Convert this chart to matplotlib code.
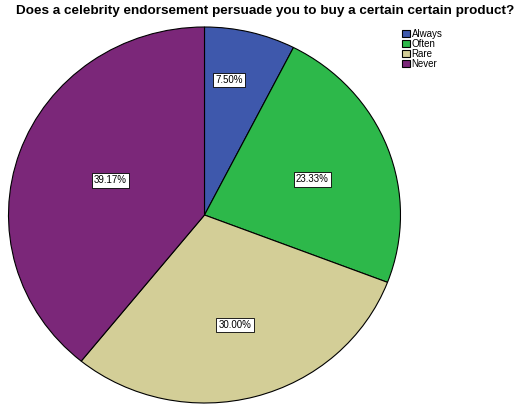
import matplotlib.pyplot as plt

plt.rcParams['font.family'] = ['Liberation Sans', 'DejaVu Sans']

# responses (percent of respondents)
answers = ["Always", "Often", "Rare", "Never"]
percent = [7.50, 23.33, 30.00, 39.17]
colors = ["#3E58AC", "#2DB84A", "#D3CE97", "#7B2779"]

# where each percentage box sits inside its slice (data coords)
label_x = [0.125, 0.551, 0.156, -0.480]
label_y = [0.720, 0.189, -0.585, 0.184]

fig = plt.figure(figsize=(5.18, 4.05), dpi=100)
ax = fig.add_axes([8.5 / 518, 2 / 405, 392 / 518, 376 / 405])

wedges, _ = ax.pie(percent, colors=colors, startangle=90, counterclock=False,
                   wedgeprops=dict(edgecolor="black", linewidth=0.8))
ax.set_aspect("auto")
ax.set_xlim(-1, 1)
ax.set_ylim(-1, 1)

for p, x, y in zip(percent, label_x, label_y):
    ax.text(x, y, "%.2f%%" % p, ha="center", va="center", fontsize=7,
            bbox=dict(boxstyle="square,pad=0.22", facecolor="white",
                      edgecolor="black", linewidth=0.6))

fig.text(265 / 518, 1 - 11 / 405, "Does a celebrity endorsement persuade you to buy a certain certain product?",
         ha="center", va="center", fontsize=9.7, fontweight="bold")

fig.legend(wedges, answers, loc="upper left", bbox_to_anchor=(402 / 518, 1 - 29 / 405),
           frameon=False, fontsize=7, handlelength=0.8, handleheight=0.7,
           handletextpad=0.2, labelspacing=0.0, borderpad=0, borderaxespad=0)

fig.savefig("out.png", dpi=100)
